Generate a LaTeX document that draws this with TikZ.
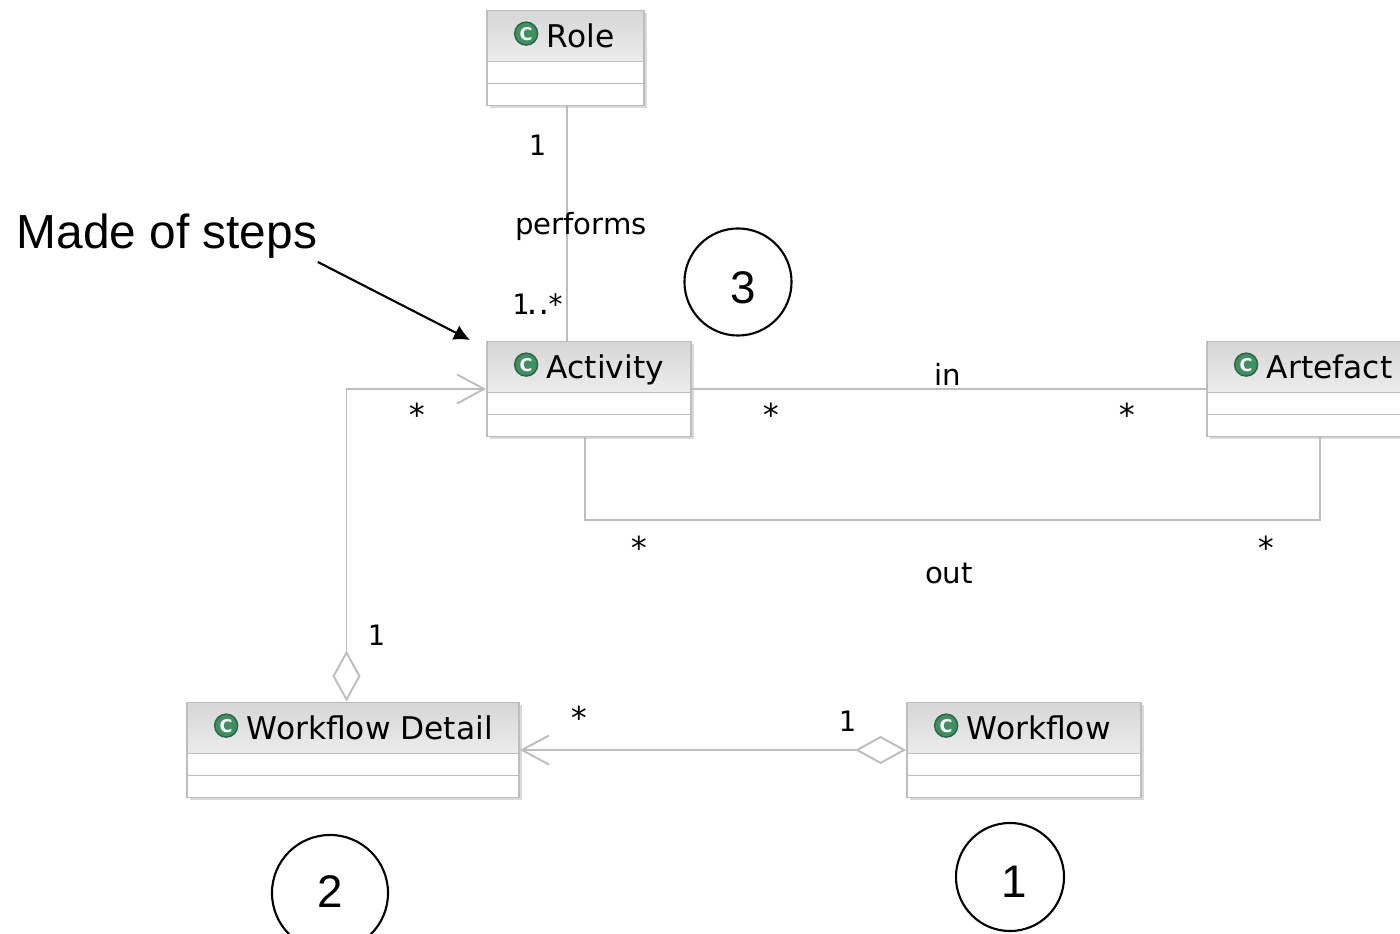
\documentclass[tikz,border=0pt]{standalone}
\usepackage{fontspec}
\setmainfont{DejaVu Sans}
\newfontfamily\calloutfont{Liberation Sans}
\newfontfamily\multfont{DejaVu Sans Mono}
\usepackage[dvipsnames]{xcolor}
\usetikzlibrary{arrows.meta, shadows, calc}
\definecolor{umlgray}{HTML}{BDBDBD}
\definecolor{icongreen}{HTML}{3F8F62}
\tikzset{
    classbox/.style={draw=umlgray, line width=0.5pt, minimum height=0.95cm, inner sep=0pt, fill=white,
        drop shadow={shadow xshift=0.025cm, shadow yshift=-0.025cm, fill=black!25, opacity=0.6},
        path picture={
            \fill[top color=black!16, bottom color=white] (path picture bounding box.north west) rectangle ([yshift=-0.51cm]path picture bounding box.north east);
            \draw[umlgray, line width=0.5pt] ([yshift=-0.51cm]path picture bounding box.north west) -- ([yshift=-0.51cm]path picture bounding box.north east);
            \draw[umlgray, line width=0.5pt] ([yshift=-0.73cm]path picture bounding box.north west) -- ([yshift=-0.73cm]path picture bounding box.north east);
        }},
    classtitle/.style={anchor=base west, inner sep=0pt, font=\fontsize{8.9}{8.9}\selectfont, text=black},
    classicon/.style={circle, draw=icongreen!70!black, fill=icongreen, inner sep=0pt, minimum size=0.23cm, text=white, font=\fontsize{5}{5}\selectfont\bfseries},
    assoc/.style={draw=umlgray, line width=0.55pt},
    navarrow/.tip={Straight Barb[length=0.27cm, width=0.29cm, line width=0.55pt]},
    opendiamond/.tip={Diamond[open, fill=white, length=0.51cm, width=0.28cm, line width=0.55pt]},
    multlabel/.style={inner sep=0pt, font=\multfont\fontsize{8}{8}\selectfont},
    starlabel/.style={inner sep=0pt, font=\multfont\fontsize{9}{9}\selectfont},
    assoclabel/.style={inner sep=0pt, font=\fontsize{8.3}{8.3}\selectfont},
    stepcircle/.style={circle, draw=black, line width=0.6pt, inner sep=0pt},
    stepnumber/.style={inner sep=0pt, font=\calloutfont\fontsize{13}{13}\selectfont}
}
\begin{document}
\begin{tikzpicture}[x=0.01cm, y=-0.01cm]
    \useasboundingbox (0, 0) rectangle (1400, 934);

    % numbered circles go first, the boxes sit over them
    \node[stepcircle, minimum size=1.07cm] (circlethree) at (738, 282) {};
    \node[stepcircle, minimum size=1.16cm] (circletwo) at (330, 893) {};
    \node[stepcircle, minimum size=1.08cm] (circleone) at (1010, 877) {};
    \node[stepnumber] (numthree) at (743, 288) {3};
    \node[stepnumber] (numtwo) at (330, 892) {2};
    \node[stepnumber] (numone) at (1014, 882) {1};

    % classes
    \foreach \name/\x/\y/\w/\label in {role/565.5/58/157/Role, activity/589/389/204/Activity, artefact/1320/389/226/Artefact, detail/353/750/332/Workflow Detail, workflow/1024/750/234/Workflow} {
        \node[classbox, minimum width=\w*0.01cm] (\name) at (\x, \y) {};
        \node[classtitle] (\name title) at ([xshift=0.6cm, yshift=-0.38cm]\name.north west) {\label};
        \node[classicon] (\name icon) at ([xshift=0.4cm, yshift=-0.24cm]\name.north west) {C};
    }

    % associations
    \draw[assoc] ([xshift=0.015cm]role.south) -- ([xshift=0.015cm]role.south |- activity.north);
    \draw[assoc] (activity.east) -- (artefact.west);
    \draw[assoc] ([xshift=-0.04cm]activity.south) -- ++(0, 83) -| (artefact.south);
    \draw[assoc, {opendiamond}-{navarrow}] ([xshift=-0.065cm]detail.north) -- ++(0, -314) |- (activity.west);
    \draw[assoc, {opendiamond}-{navarrow}] (workflow.west) -- (detail.east);

    % multiplicities and names
    \node[multlabel] (rolemult) at (537, 145) {1};
    \node[assoclabel] (performs) at (581, 226) {performs};
    \node[multlabel] (activitymult) at (538, 304) {1\kern-1.5pt.\kern-1.5pt.\kern-1.5pt*};
    \node[assoclabel] (inlabel) at (948, 374) {in};
    \node[starlabel] (inleft) at (771, 415) {*};
    \node[starlabel] (inright) at (1127, 415) {*};
    \node[starlabel] (outleft) at (639, 548) {*};
    \node[starlabel] (outright) at (1266, 548) {*};
    \node[assoclabel] (outlabel) at (949, 573) {out};
    \node[starlabel] (detailmany) at (417, 415) {*};
    \node[multlabel] (detailone) at (376, 635) {1};
    \node[starlabel] (workflowmany) at (579, 718) {*};
    \node[multlabel] (workflowone) at (847, 721) {1};

    % callout
    \node[anchor=west, inner sep=0pt, font=\calloutfont\fontsize{13.6}{13.6}\selectfont] (steps) at (16, 236) {Made of steps};
    \coordinate (stepsend) at (470, 340);
    \draw[black, line width=0.6pt, -{Latex[length=0.16cm, width=0.16cm]}] (steps.south east) ++(0, 3) -- (stepsend);
\end{tikzpicture}
\end{document}
